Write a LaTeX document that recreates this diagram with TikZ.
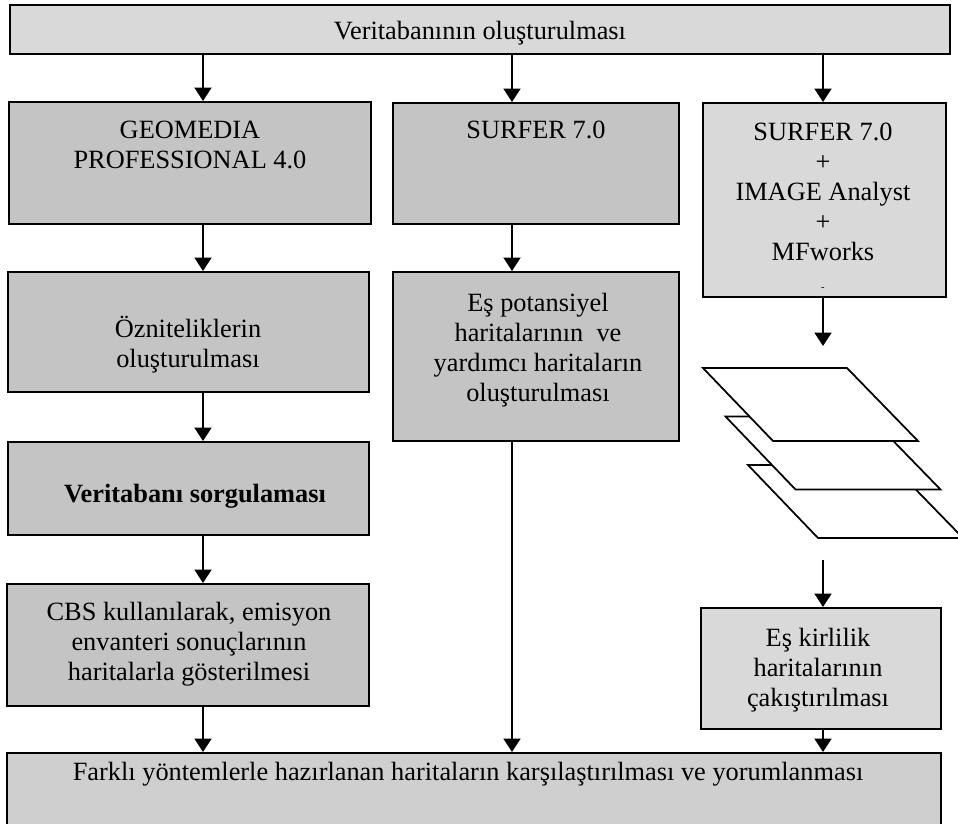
\documentclass[tikz,border=0pt]{standalone}
\usepackage{fontspec}
\setmainfont{Liberation Serif}
\usetikzlibrary{arrows.meta,fit}

\begin{document}
\begin{tikzpicture}[x=0.02cm, y=-0.02cm,
  box/.style={draw, line width=0.04cm, inner sep=0pt, fill=black!23},
  boxlight/.style={box, fill=black!15},
  lbl/.style={font=\fontsize{15pt}{17.1pt}\selectfont, align=center, inner sep=0pt},
  arr/.style={line width=0.04cm, -{Triangle[length=0.27cm, width=0.34cm]}},
  layer/.style={draw, fill=white, line width=0.035cm}]
\useasboundingbox (0,0) rectangle (958,823);

% columns of the arrows
\coordinate (c1) at (203,0);
\coordinate (c2) at (512,0);
\coordinate (c3) at (823,0);

% boxes
\node[boxlight, fit={(10,5) (950,54)}] (db) {};
\node[box, fit={(9,102) (371,224)}] (geo) {};
\node[box, fit={(393,103) (679,224)}] (surf) {};
\node[boxlight, fit={(703,103) (946,297)}] (surfx) {};
\node[box, fit={(8,272) (369,392)}] (oz) {};
\node[box, fit={(393,272) (679,441)}] (esp) {};
\node[box, fit={(8,442) (369,535)}] (vs) {};
\node[box, fit={(7,584) (369,706)}] (cbs) {};
\node[boxlight, fit={(701,608) (941,729)}] (esk) {};
\node[box, fill=black!19, fit={(7,753) (941,828)}] (bot) {};

% texts
\node[lbl] (db-t) at (480,33) {Veritabanının oluşturulması};
\node[lbl] (geo-t) at (190,145) {GEOMEDIA\\PROFESSIONAL 4.0};
\node[lbl] (surf-t) at (536,130) {SURFER 7.0};
\node[lbl] (surfx-t) at (823,207) {SURFER 7.0\\+\\IMAGE Analyst\\+\\MFworks\\{\fontsize{6pt}{7pt}\selectfont -}};
\node[lbl] (oz-t) at (188,345) {Özniteliklerin\\oluşturulması};
\node[lbl] (esp-t) at (538,350) {Eş potansiyel\\haritalarının~ ve\\yardımcı haritaların\\oluşturulması};
\node[lbl, font=\fontsize{15pt}{17.1pt}\selectfont\bfseries] (vs-t) at (195,496) {Veritabanı sorgulaması};
\node[lbl] (cbs-t) at (189,644) {CBS kullanılarak, emisyon\\envanteri sonuçlarının\\haritalarla gösterilmesi};
\node[lbl] (esk-t) at (818,670) {Eş kirlilik\\haritalarının\\çakıştırılması};
\node[lbl] (bot-t) at (468,774) {Farklı yöntemlerle hazırlanan haritaların karşılaştırılması ve yorumlanması};

% stacked map layers
\foreach \dx/\dy in {45/97, 22.5/48.5, 0/0}
  \draw[layer, shift={(\dx,\dy)}] (703,368) -- (847,368) -- (918,441) -- (773,441) -- cycle;
\coordinate (lin) at (823,346);
\coordinate (lout) at (823,560);

% arrows
\draw[arr] (db.south -| c1) -- (geo.north -| c1);
\draw[arr] (db.south -| c2) -- (surf.north -| c2);
\draw[arr] (db.south -| c3) -- (surfx.north -| c3);
\draw[arr] (geo.south -| c1) -- (oz.north -| c1);
\draw[arr] (oz.south -| c1) -- (vs.north -| c1);
\draw[arr] (vs.south -| c1) -- (cbs.north -| c1);
\draw[arr] (cbs.south -| c1) -- (bot.north -| c1);
\draw[arr] (surf.south -| c2) -- (esp.north -| c2);
\draw[arr] (esp.south -| c2) -- (bot.north -| c2);
\draw[arr] (surfx.south -| c3) -- (lin);
\draw[arr] (lout) -- (esk.north -| c3);
\draw[arr] (esk.south -| c3) -- (bot.north -| c3);
\end{tikzpicture}
\end{document}
